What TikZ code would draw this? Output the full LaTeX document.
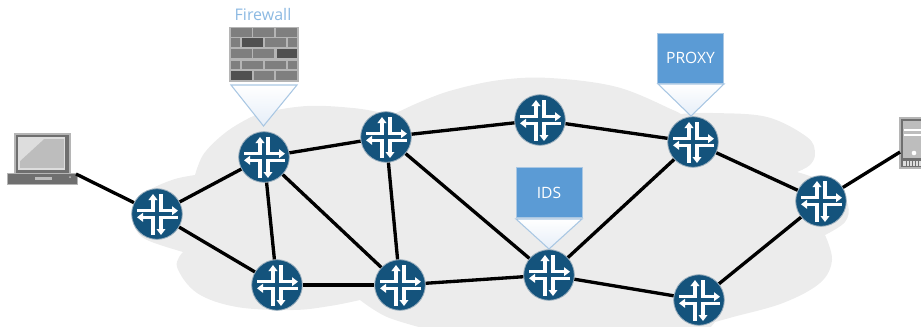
\documentclass[tikz,border=0pt]{standalone}
\usepackage{fontspec}
\setmainfont{Open Sans}
\usetikzlibrary{arrows.meta}
\definecolor{cloudgray}{HTML}{ECECEC}
\definecolor{routerblue}{HTML}{14537C}
\definecolor{routerhalo}{HTML}{9DB0BE}
\definecolor{tagblue}{HTML}{5B9BD5}
\definecolor{tagedge}{HTML}{A9C7E3}
\definecolor{funnelbottom}{HTML}{E6EEF8}
\definecolor{brickback}{HTML}{B5B5B5}
\definecolor{brickmid}{HTML}{7F7F7F}
\definecolor{brickdark}{HTML}{505050}
\definecolor{devgray}{HTML}{6F6F6F}
\definecolor{devedge}{HTML}{B5B5B5}
\definecolor{devlight}{HTML}{DDDDDD}
\definecolor{devmid}{HTML}{BDBDBD}
\tikzset{
  x=0.75pt,y=-0.75pt,
  link/.style={line width=2.5pt,black},
  routernode/.style={circle,fill=routerblue,minimum size=38pt,inner sep=0pt,draw=routerhalo,line width=.6pt},
  routerarrow/.style={white,line width=2.3pt,line join=miter,-{Triangle[length=4.5pt,width=6.5pt]}},
  tagbox/.style={fill=tagblue,draw=tagedge,line width=.7pt,text=white,font=\fontsize{11.7}{14}\selectfont,inner sep=0pt,minimum width=49.5pt,minimum height=37.5pt},
  funnel/.style={draw=tagedge,line width=.8pt,top color=white,bottom color=funnelbottom},
  brick/.style={fill=brickmid},
  darkbrick/.style={fill=brickdark},
}
\newcommand{\routericon}[1]{%
  \begin{scope}[shift={(#1)}]
    \draw[routerarrow] (-20,-3.3) -- (-4,-3.3) -- (-4,-20);
    \draw[routerarrow] (4,-20) -- (4,-3.3) -- (21,-3.3);
    \draw[routerarrow] (-4,21) -- (-4,3.3) -- (-20,3.3);
    \draw[routerarrow] (21,3.3) -- (4,3.3) -- (4,21);
  \end{scope}
}
\begin{document}
\begin{tikzpicture}
\useasboundingbox (0,0) rectangle (921,326);
\clip (0,0) rectangle (921,326);
% cloud
\fill[cloudgray]
  plot[smooth,tension=.6] coordinates {(132,213) (140,198) (153,188) (175,179) (195,175)}
  -- plot[smooth,tension=.6] coordinates {(195,175) (203,155) (220,137) (240,123) (263,113) (307,106) (353,108) (383,113) (392,115)}
  -- plot[smooth,tension=.6] coordinates {(392,115) (420,102) (453,90) (500,80) (550,78) (617,87) (673,110) (680,114)}
  -- plot[smooth,tension=.6] coordinates {(680,114) (713,113) (767,117) (807,137) (815,153) (810,165) (797,172)}
  -- plot[smooth,tension=.6] coordinates {(797,172) (810,176) (835,185) (848,205) (845,222) (825,235)}
  -- plot[smooth,tension=.6] coordinates {(825,235) (832,260) (820,283) (783,303) (733,317) (715,322)}
  -- (700,340) -- (430,340)
  -- plot[smooth,tension=.6] coordinates {(430,330) (387,317) (360,300)}
  -- plot[smooth,tension=.6] coordinates {(360,300) (330,306) (293,310) (237,307) (197,293) (177,267) (183,252)}
  -- plot[smooth,tension=.6] coordinates {(183,252) (147,240) (135,228) (132,213)}
  -- cycle;
% laptop
\fill[devedge] (14,133) rectangle (71,174);
\fill[devgray] (16,135) rectangle (69,173);
\fill[devlight] (18,137) rectangle (65,170);
\fill[devmid] (20,139) rectangle (64,168);
\fill[devlight] (20,139) -- (44,139) -- (20,161) -- cycle;
\fill[devedge] (7,173) rectangle (78,185);
\fill[devgray] (8,174) rectangle (77,184);
\fill[devmid] (35,177) rectangle (52,180);
\fill[devmid] (70,177) circle[radius=1];
\coordinate (laptopport) at (76,174);
% server
\fill[devedge] (899,117) rectangle (925,169);
\fill[devgray] (901,119) rectangle (925,167);
\fill[devmid] (903,121) rectangle (925,158);
\fill[white] (904,129) rectangle (925,131);
\fill[white] (904,134) rectangle (925,136);
\fill[white] (914,153) circle[radius=2.3];
\fill[devlight] (903,161) rectangle (925,166);
\foreach \xx in {906,909,...,921} \fill[devgray] (\xx,161) rectangle ++(1,5);
\coordinate (serverport) at (900,152);
% routers
\foreach \n/\x/\y in {r1/157/214,r2/264/157,r3/386/137,r4/540/120,r5/693/142,r6/821/201,r7/277/285,r8/400/285,r9/549/275,r10/699/300}
  \node[routernode] (\n) at (\x,\y) {};
% links
\draw[link] (laptopport) -- (r1);
\draw[link] (r1) -- (r2);
\draw[link] (r1) -- (r7);
\draw[link] (r2) -- (r3);
\draw[link] (r2) -- (r7);
\draw[link] (r2) -- (r8);
\draw[link] (r3) -- (r8);
\draw[link] (r3) -- (r4);
\draw[link] (r3) -- (r9);
\draw[link] (r4) -- (r5);
\draw[link] (r5) -- (r9);
\draw[link] (r5) -- (r6);
\draw[link] (r6) -- (r10);
\draw[link] (r6) -- (serverport);
\draw[link] (r7) -- (r8);
\draw[link] (r8) -- (r9);
\draw[link] (r9) -- (r10);
\foreach \n in {r1,r2,r3,r4,r5,r6,r7,r8,r9,r10} {\routericon{\n}}
% firewall
\node[text=tagblue!70!white,font=\fontsize{12}{14}\selectfont,inner sep=0pt] (fwlabel) at (263,14.5) {Firewall};
\fill[brickback] (229,27) rectangle (299,82);
\foreach \a/\b/\c/\d/\s in {
 231/28/252/37/brick,253/28/274/37/brick,276/28/297/37/brick,
 231/38/240/47/brick,242/38/263/47/darkbrick,265/38/286/47/brick,288/38/297/47/brick,
 231/49/252/58/brick,253/49/274/58/brick,277/49/297/58/darkbrick,
 231/61/240/69/brick,242/61/263/69/brick,265/61/286/69/brick,288/61/297/69/brick,
 231/71/252/80/darkbrick,254/71/274/80/brick,276/71/297/80/brick}
  \path[\s] (\a,\b) rectangle (\c,\d);
\path[funnel] (231,85) -- (297,85) -- (263.5,126) -- cycle;
% PROXY
\path[funnel] (658,84) -- (724,84) -- (691,116) -- cycle;
\node[tagbox] (proxy) at (690.5,58) {PROXY};
% IDS
\path[funnel] (516,219) -- (582,219) -- (549,249) -- cycle;
\node[tagbox] (ids) at (549,192.5) {IDS};
\end{tikzpicture}
\end{document}
